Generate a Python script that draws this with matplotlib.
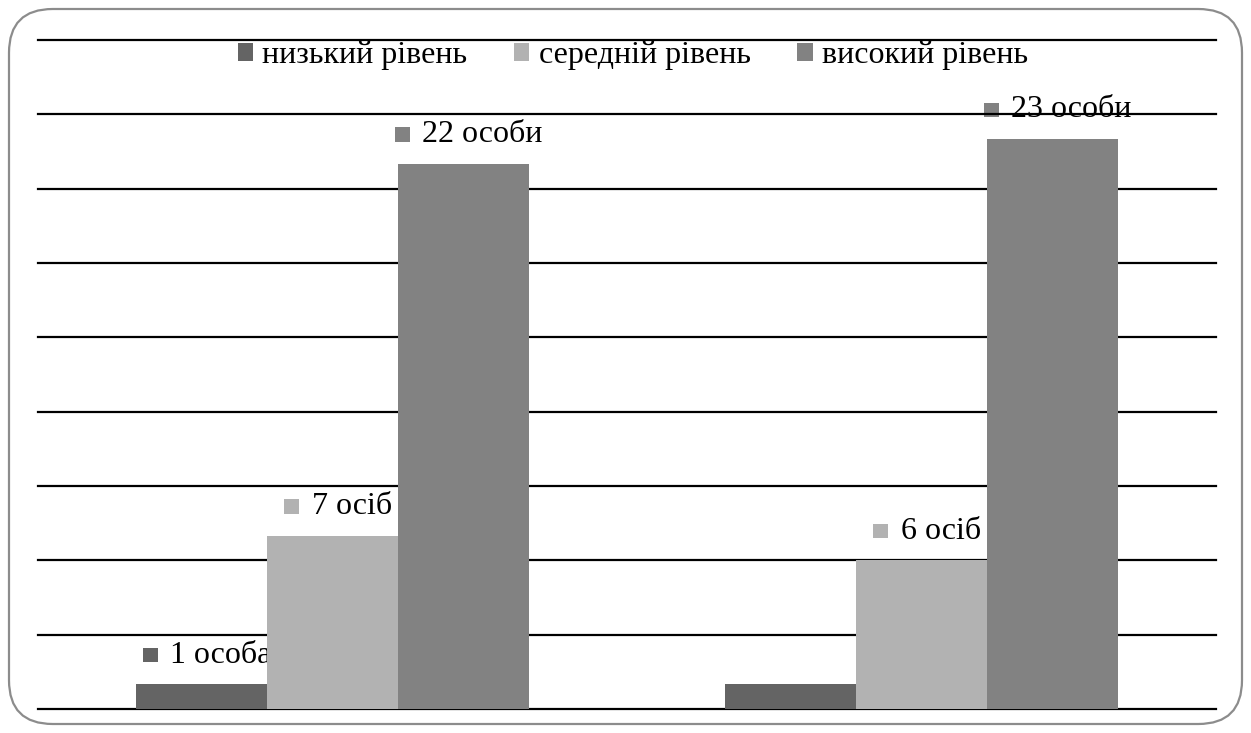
import matplotlib
matplotlib.use("Agg")
import matplotlib.pyplot as plt
import numpy as np
from matplotlib.patches import FancyBboxPatch, Rectangle
from matplotlib.offsetbox import HPacker, TextArea, DrawingArea, AnnotationBbox

plt.rcParams['font.family'] = ['Liberation Serif', 'DejaVu Serif']

groups = ["група 1", "група 2"]
series = ["низький рівень", "середній рівень", "високий рівень"]
values = {
    "низький рівень": [1, 1],
    "середній рівень": [7, 6],
    "високий рівень": [22, 23],
}
labels = {
    "низький рівень": ["1 особа", None],
    "середній рівень": ["7 осіб", "6 осіб"],
    "високий рівень": ["22 особи", "23 особи"],
}
colors = ["#646464", "#b2b2b2", "#828282"]
gridticks = np.arange(0, 28, 3)

W, H = 1251, 733
fig = plt.figure(figsize=(W / 100, H / 100), dpi=100)

# rounded outer frame
frame = FancyBboxPatch((9 / W, 9 / H), (1242 - 9) / W, (724 - 9) / H,
                       boxstyle="round,pad=0,rounding_size=0.035",
                       transform=fig.transFigure, fill=False,
                       edgecolor="#8c8c8c", linewidth=1.6,
                       mutation_aspect=W / H)
fig.patches.append(frame)

ax = fig.add_axes([38 / W, 1 - 709 / H, (1216 - 38) / W, (709 - 40) / H])
ax.set_xlim(-0.5, len(groups) - 0.5)
ax.set_ylim(0, 27)
for s in ax.spines.values():
    s.set_visible(False)
ax.set_xticks([])
ax.set_yticks([])

for t in gridticks:
    ax.axhline(t, color="black", linewidth=1.6, zorder=1, clip_on=False)

x = np.arange(len(groups))
bw = 1 / 4.5
handles = []
for i, (s, c) in enumerate(zip(series, colors)):
    pos = x + (i - 1) * bw
    b = ax.bar(pos, values[s], width=bw, color=c, zorder=2, label=s)
    handles.append(b)
    for xp, v, lab in zip(pos, values[s], labels[s]):
        if lab is None:
            continue
        da = DrawingArea(10.5, 10.5, 0, 0)
        da.add_artist(Rectangle((0, 0), 10.5, 10.5, facecolor=c, edgecolor="none"))
        ta = TextArea(lab, textprops=dict(fontsize=23, color="black"))
        pk = HPacker(children=[da, ta], align="center", pad=0, sep=9)
        ab = AnnotationBbox(pk, (xp, v), xybox=(4, 21), xycoords="data",
                            boxcoords="offset points", frameon=False,
                            box_alignment=(0.5, 0.5), zorder=0.5)
        ax.add_artist(ab)

leg = ax.legend(handles=handles, labels=series, loc="upper center",
                bbox_to_anchor=(0.505, 1.017), ncol=3, frameon=False,
                fontsize=23, handlelength=0.48, handleheight=0.48,
                handletextpad=0.3, columnspacing=1.45, borderaxespad=0.0)

fig.savefig("out.png", dpi=100)
